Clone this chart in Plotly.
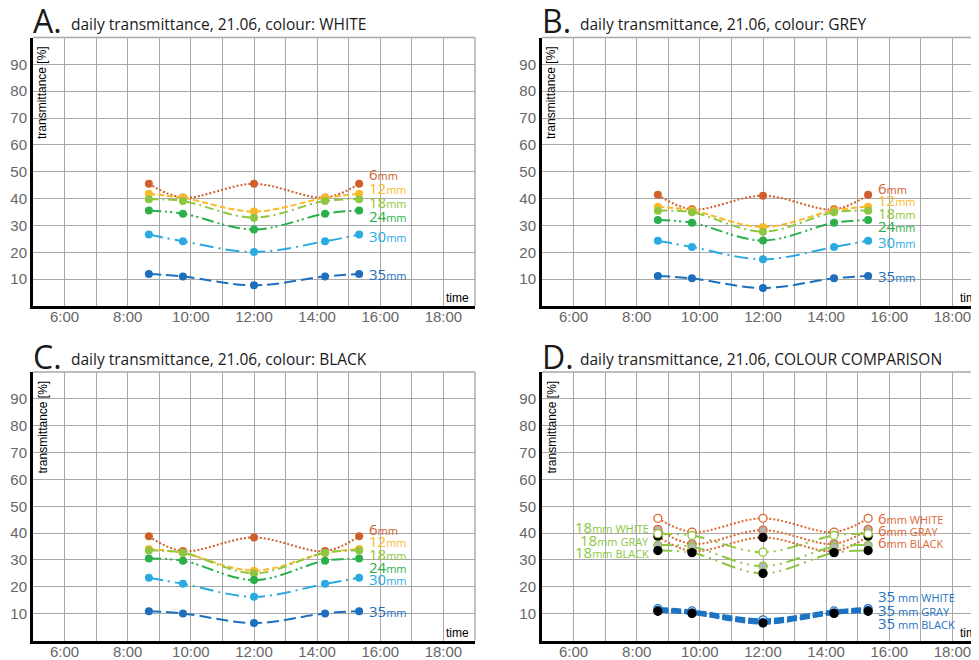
import plotly.graph_objects as go

# ---------------- data ----------------
times = [8.67, 9.75, 12.0, 14.25, 15.33]          # 8:40, 9:45, 12:00, 14:15, 15:20
thicknesses = ["6", "12", "18", "24", "30", "35"]
x_tick_vals = [6, 8, 10, 12, 14, 16, 18]
x_tick_text = ["6:00", "8:00", "10:00", "12:00", "14:00", "16:00", "18:00"]
y_tick_vals = [10, 20, 30, 40, 50, 60, 70, 80, 90]

white_6 = [45.5, 40.4, 45.5, 40.4, 45.5]
white_12 = [41.8, 40.3, 35.2, 40.3, 41.8]
white_18 = [39.8, 39.1, 32.9, 39.1, 39.8]
white_24 = [35.6, 34.4, 28.5, 34.4, 35.6]
white_30 = [26.6, 24.1, 20.1, 24.1, 26.6]
white_35 = [11.9, 11.0, 7.7, 11.0, 11.9]

grey_6 = [41.4, 36.0, 41.1, 36.0, 41.4]
grey_12 = [37.0, 35.6, 29.4, 35.6, 37.0]
grey_18 = [35.5, 34.9, 27.7, 34.9, 35.5]
grey_24 = [32.0, 31.0, 24.4, 31.0, 32.0]
grey_30 = [24.3, 22.0, 17.4, 22.0, 24.3]
grey_35 = [11.2, 10.3, 6.7, 10.3, 11.2]

black_6 = [38.8, 33.3, 38.4, 33.3, 38.8]
black_12 = [34.1, 32.6, 26.0, 32.6, 34.1]
black_18 = [33.5, 32.7, 25.0, 32.7, 33.5]
black_24 = [30.5, 29.7, 22.5, 29.7, 30.5]
black_30 = [23.4, 21.1, 16.3, 21.1, 23.4]
black_35 = [10.9, 10.1, 6.5, 10.1, 10.9]

white_series = [white_6, white_12, white_18, white_24, white_30, white_35]
grey_series = [grey_6, grey_12, grey_18, grey_24, grey_30, grey_35]
black_series = [black_6, black_12, black_18, black_24, black_30, black_35]

# ---------------- styles / layout ----------------
# the page body has an 8px margin, so the figure is sized/offset to fit the window
OX, OY = 8, 8
W, H = 979 - OX, 660 - OY
WIN_W = 979
HOUR_PX = 442 / 14.0

colors = {"6": "#D0602B", "12": "#FBB827", "18": "#8DC641",
          "24": "#2BAF4A", "30": "#2AAAE1", "35": "#1D6FBE"}
dashes = {"6": "2px,2px", "12": "6px,3px", "18": "9px,4px,2px,4px",
          "24": "12px,4px,2px,3px,2px,4px", "30": "14px,5px,2px,5px",
          "35": "12px,5px"}

# label y anchors (data units) for the right-hand labels of panels A-C
label_y = {
    "A": [49.1, 43.8, 38.8, 33.6, 26.1, 11.9],
    "B": [44.0, 39.5, 34.5, 29.8, 23.9, 11.2],
    "C": [41.6, 37.2, 32.3, 27.5, 22.8, 11.1],
}

panels = [
    dict(key="A", n="", left=33, right=475, top=37.5, bottom=306,
         title="daily transmittance, 21.06, colour: WHITE", ty=24),
    dict(key="B", n="2", left=542, right=979, top=37.5, bottom=306,
         title="daily transmittance, 21.06, colour: GREY", ty=24),
    dict(key="C", n="3", left=33, right=475, top=372, bottom=640.5,
         title="daily transmittance, 21.06, colour: BLACK", ty=359),
    dict(key="D", n="4", left=542, right=979, top=372, bottom=640.5,
         title="daily transmittance, 21.06, COLOUR COMPARISON", ty=359),
]


def fx(p):
    return (p - OX) / W


def fy(p):
    return 1 - (p - OY) / H


fig = go.Figure()
annotations = []
shapes = []
layout = dict(width=W, height=H, margin=dict(l=0, r=0, t=0, b=0, autoexpand=False),
              paper_bgcolor="white", plot_bgcolor="white", showlegend=False,
              autosize=False)

grid_color = "#A8A8A8"

for p in panels:
    n = p["n"]
    xr_end = 5 + (p["right"] - p["left"]) / HOUR_PX
    xa = dict(domain=[fx(p["left"]), min(1.0, fx(p["right"]))], range=[5, xr_end],
              anchor="y" + n, tickvals=list(range(6, 20)),
              ticktext=[x_tick_text[x_tick_vals.index(v)] if v in x_tick_vals else "" for v in range(6, 20)],
              showgrid=True, gridcolor=grid_color, gridwidth=1.4,
              showline=True, linecolor="black", linewidth=3,
              zeroline=False, ticks="", automargin=False, ticklabelstandoff=-5,
              tickfont=dict(family="Liberation Sans, Arial", size=15, color="#666666"),
              fixedrange=True)
    ya = dict(domain=[fy(p["bottom"]), fy(p["top"])], range=[0, 100],
              anchor="x" + n, tickvals=y_tick_vals + [100],
              ticktext=[str(v) for v in y_tick_vals] + [""],
              showgrid=True, gridcolor=grid_color, gridwidth=1.4,
              showline=True, linecolor="black", linewidth=3,
              zeroline=False, ticks="", automargin=False,
              tickfont=dict(family="Liberation Sans, Arial", size=15, color="#666666"),
              fixedrange=True)
    layout["xaxis" + n] = xa
    layout["yaxis" + n] = ya

    # top / right borders
    shapes.append(dict(type="line", xref="paper", yref="paper",
                       x0=fx(p["left"]), x1=min(1.0, fx(p["right"])), y0=fy(p["top"]), y1=fy(p["top"]),
                       line=dict(color=grid_color, width=1.4), layer="below"))
    if p["right"] < WIN_W:
        shapes.append(dict(type="line", xref="paper", yref="paper",
                           x0=fx(p["right"]), x1=fx(p["right"]), y0=fy(p["top"]), y1=fy(p["bottom"]),
                           line=dict(color=grid_color, width=1.4), layer="below"))

    # panel letter + title
    annotations.append(dict(xref="paper", yref="paper", x=fx(p["left"] - 2), y=fy(p["ty"] - 3),
                            text=p["key"] + ".", showarrow=False, xanchor="left", yanchor="middle",
                            font=dict(family="Open Sans", size=32, color="#1a1a1a")))
    annotations.append(dict(xref="paper", yref="paper", x=fx(p["left"] + 36), y=fy(p["ty"]),
                            text=p["title"], showarrow=False, xanchor="left", yanchor="middle",
                            font=dict(family="Open Sans", size=15.5, color="#1a1a1a")))
    # axis titles
    annotations.append(dict(xref="paper", yref="paper", x=fx(p["left"] + 9), y=fy(p["top"] + 7),
                            text="transmittance [%]", showarrow=False, textangle=-90,
                            xanchor="center", yanchor="top",
                            font=dict(family="Liberation Sans, Arial", size=12, color="black")))
    if p["right"] < WIN_W:
        annotations.append(dict(xref="paper", yref="paper", x=fx(p["right"] - 4), y=fy(p["bottom"] - 8),
                                text="time", showarrow=False, xanchor="right", yanchor="middle",
                                font=dict(family="Liberation Sans, Arial", size=12, color="black")))
    else:
        annotations.append(dict(xref="paper", yref="paper", x=fx(958), y=fy(p["bottom"] - 8),
                                text="time", showarrow=False, xanchor="left", yanchor="middle",
                                font=dict(family="Liberation Sans, Arial", size=12, color="black")))

# ---------------- panels A-C ----------------
for p, series in zip(panels[:3], [white_series, grey_series, black_series]):
    n = p["n"]
    for i, t in enumerate(thicknesses):
        c = colors[t]
        fig.add_trace(go.Scatter(
            x=times, y=series[i], xaxis="x" + n, yaxis="y" + n,
            mode="lines+markers",
            line=dict(color=c, width=2, dash=dashes[t], shape="spline", smoothing=1.0),
            marker=dict(color=c, size=8),
            name=t + "mm"))
        annotations.append(dict(xref="x" + n, yref="y" + n, x=15.57, y=label_y[p["key"]][i],
                                text=t + "<span style='font-size:11px'>mm</span>",
                                showarrow=False, xanchor="left", yanchor="middle",
                                font=dict(family="Open Sans", size=15, color=c)))

# ---------------- panel D ----------------
marker_fill = {"WHITE": "white", "GRAY": "#B5B5B5", "BLACK": "black"}
comp = [("6", [white_6, grey_6, black_6]),
        ("18", [white_18, grey_18, black_18]),
        ("35", [white_35, grey_35, black_35])]
d_colors = {"6": "#E0672F", "18": "#8DC641", "35": "#1D73C4"}
d_dash = {"6": "2px,2px", "18": "14px,5px,2px,5px,2px,5px", "35": "10px,3px"}
d_width = {"6": 2, "18": 2, "35": 3.2}
for t, sets in comp:
    for name, vals in zip(["WHITE", "GRAY", "BLACK"], sets):
        fig.add_trace(go.Scatter(
            x=times, y=vals, xaxis="x4", yaxis="y4", mode="lines+markers",
            line=dict(color=d_colors[t], width=d_width[t], dash=d_dash[t], shape="spline", smoothing=1.0),
            marker=dict(color=marker_fill[name], size=8,
                        line=dict(color=d_colors[t] if name != "BLACK" else "black", width=1.3)),
            name=t + "mm " + name))

d_labels_right = [("6", "mm WHITE", 45.7), ("6", "mm GRAY", 41.2), ("6", "mm BLACK", 36.8),
                  ("35", " mm WHITE", 16.6), ("35", " mm GRAY", 11.4), ("35", " mm BLACK", 6.6)]
for t, suffix, yv in d_labels_right:
    annotations.append(dict(xref="x4", yref="y4", x=15.57, y=yv,
                            text=t + "<span style='font-size:11px'>" + suffix + "</span>",
                            showarrow=False, xanchor="left", yanchor="middle",
                            font=dict(family="Open Sans", size=15, color=d_colors[t])))
for suffix, yv in [("mm WHITE", 42.3), ("mm GRAY", 37.5), ("mm BLACK", 33.0)]:
    annotations.append(dict(xref="x4", yref="y4", x=8.45, y=yv,
                            text="18<span style='font-size:11px'>" + suffix + "</span>",
                            showarrow=False, xanchor="right", yanchor="middle",
                            font=dict(family="Open Sans", size=15, color=d_colors["18"])))

layout["annotations"] = annotations
layout["shapes"] = shapes
fig.update_layout(**layout)
fig.write_html("out.html")
